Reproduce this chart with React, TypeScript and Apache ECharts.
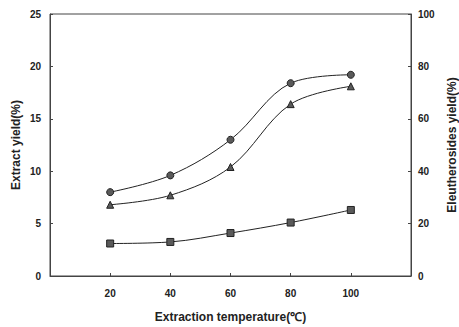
import React, { useEffect, useRef } from "react";
import * as echarts from "echarts";

const temperatures = [20, 40, 60, 80, 100];
const circleSeries = [8.0, 9.6, 13.0, 18.4, 19.2];
const triangleSeries = [6.8, 7.7, 10.4, 16.4, 18.1];
const squareSeries = [3.1, 3.25, 4.1, 5.1, 6.3];

const font = "Liberation Sans, Arial, sans-serif";

export default function App() {
  const ref = useRef<HTMLDivElement>(null);
  useEffect(() => {
    if (!ref.current) return;
    const chart = echarts.init(ref.current, undefined, { renderer: "svg" });
    const mk = (vals: number[], symbol: string, size: number) => ({
      type: "line",
      data: temperatures.map((t, i) => [t, vals[i]]),
      yAxisIndex: 0,
      symbol,
      symbolSize: size,
      smooth: 0.35,
      lineStyle: { color: "#222", width: 1 },
      itemStyle: { color: "#5a5a5a", borderColor: "#222", borderWidth: 1 },
      z: 3,
    });
    chart.setOption({
      animation: false,
      backgroundColor: "#fff",
      grid: {
        left: 50,
        right: 48,
        top: 14,
        bottom: 51,
        show: true,
        borderColor: "#444",
        borderWidth: 1,
        outerBoundsMode: "none",
        containLabel: false,
      },
      xAxis: {
        type: "value",
        min: 0,
        max: 120,
        interval: 20,
        name: "Extraction temperature(℃)",
        nameLocation: "middle",
        nameGap: 35,
        nameTextStyle: { fontFamily: font, fontWeight: "bold", fontSize: 12, color: "#222" },
        axisLine: { lineStyle: { color: "#444", width: 1 } },
        axisTick: { inside: true, length: 3, lineStyle: { color: "#444" } },
        splitLine: { show: false },
        axisLabel: {
          fontFamily: font,
          fontWeight: "bold",
          fontSize: 10,
          color: "#222",
          margin: 12,
          formatter: (v: number) => (v === 0 || v === 120 ? "" : String(v)),
        },
      },
      yAxis: [
        {
          type: "value",
          min: 0,
          max: 25,
          interval: 5,
          position: "left",
          name: "Extract yield(%)",
          nameLocation: "middle",
          nameGap: 28,
          nameMoveOverlap: false,
          nameRotate: 90,
          nameTextStyle: { fontFamily: font, fontWeight: "bold", fontSize: 12, color: "#222" },
          axisLine: { show: true, lineStyle: { color: "#444", width: 1 } },
          axisTick: { show: true, inside: true, length: 3, lineStyle: { color: "#444" } },
          splitLine: { show: false },
          axisLabel: { fontFamily: font, fontWeight: "bold", fontSize: 10, color: "#222", margin: 9 },
        },
        {
          type: "value",
          min: 0,
          max: 100,
          interval: 20,
          position: "right",
          name: "Eleutherosides yield(%)",
          nameLocation: "middle",
          nameGap: 35,
          nameMoveOverlap: false,
          nameRotate: 90,
          nameTextStyle: { fontFamily: font, fontWeight: "bold", fontSize: 12, color: "#222" },
          axisLine: { show: true, lineStyle: { color: "#444", width: 1 } },
          axisTick: { show: true, inside: true, length: 3, lineStyle: { color: "#444" } },
          splitLine: { show: false },
          axisLabel: { fontFamily: font, fontWeight: "bold", fontSize: 10, color: "#222", margin: 7 },
        },
      ],
      series: [
        mk(circleSeries, "circle", 7),
        mk(triangleSeries, "triangle", 7),
        mk(squareSeries, "rect", 7),
      ],
    });
    return () => chart.dispose();
  }, []);
  return (
    <div
      ref={ref}
      style={{ position: "absolute", left: 0, top: 0, width: 459, height: 327 }}
    />
  );
}
